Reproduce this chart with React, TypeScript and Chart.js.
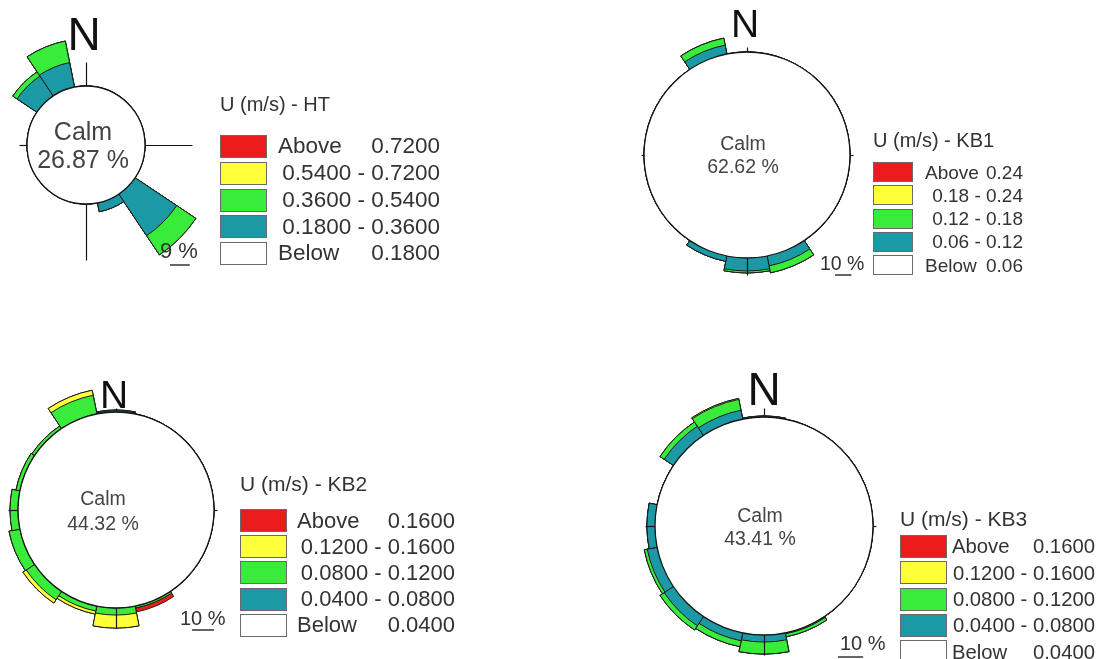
import React, { useEffect, useRef } from 'react';
import { Chart, registerables } from 'chart.js';

Chart.register(...registerables);

const FONT = '"Liberation Sans", Arial, Helvetica, sans-serif';

// 16 compass sectors, clockwise from north
const directions = ['N', 'NNE', 'NE', 'ENE', 'E', 'ESE', 'SE', 'SSE', 'S', 'SSW', 'SW', 'WSW', 'W', 'WNW', 'NW', 'NNW'];

// speed class colours, innermost class first
const speedColors = ['#1b9aa6', '#39ec39', '#ffff3a', '#ec1c1c'];

// ---- HT ----
const htCalm = 26.87;
const htScaleStep = 9;
const htBreaks = ['0.1800', '0.3600', '0.5400', '0.7200'];
//              N  NNE NE ENE E ESE  SE    SSE  S SSW SW WSW W WNW  NW    NNW
const htTeal = [0, 0, 0, 0, 0, 0, 22.8, 4.1, 0, 0, 0, 0, 0, 0, 10.9, 11.4];
const htGreen = [0, 0, 0, 0, 0, 0, 10.5, 0, 0, 0, 0, 0, 0, 0, 2.3, 10.0];
const htYellow = [0, 0, 0, 0, 0, 0, 0, 0, 0, 0, 0, 0, 0, 0, 0, 0];
const htRed = [0, 0, 0, 0, 0, 0, 0, 0, 0, 0, 0, 0, 0, 0, 0, 0];

// ---- KB1 ----
const kb1Calm = 62.62;
const kb1ScaleStep = 10;
const kb1Breaks = ['0.06', '0.12', '0.18', '0.24'];
const kb1Teal = [0, 0, 0, 0, 0, 0, 0, 6.1, 7.9, 3.3, 0, 0, 0, 0, 0, 5.5];
const kb1Green = [0, 0, 0, 0, 0, 0, 0, 4.3, 1.2, 0, 0, 0, 0, 0, 0, 4.3];
const kb1Yellow = [0, 0, 0, 0, 0, 0, 0, 0, 0, 0, 0, 0, 0, 0, 0, 0];
const kb1Red = [0, 0, 0, 0, 0, 0, 0, 0, 0, 0, 0, 0, 0, 0, 0, 0];

// ---- KB2 ----
const kb2Calm = 44.32;
const kb2ScaleStep = 10;
const kb2Breaks = ['0.0400', '0.0800', '0.1200', '0.1600'];
const kb2Teal = [0.5, 0, 0, 0, 0, 0, 0, 0, 0, 0, 0, 0, 0, 0, 0, 0];
const kb2Green = [0.4, 0, 0, 0, 0, 0, 0, 0.9, 3.2, 2.3, 4.5, 5.0, 3.6, 1.8, 1.4, 8.6];
const kb2Yellow = [0, 0, 0, 0, 0, 0, 0, 0, 5.9, 1.4, 1.8, 0, 0, 0, 0, 2.3];
const kb2Red = [0, 0, 0, 0, 0, 0, 0, 1.8, 0, 0, 0, 0, 0, 0, 0, 0];

// ---- KB3 ----
const kb3Calm = 43.41;
const kb3ScaleStep = 10;
const kb3Breaks = ['0.0400', '0.0800', '0.1200', '0.1600'];
const kb3Teal = [0.4, 0, 0, 0, 0, 0, 0, 0.4, 2.8, 3.2, 4.4, 4.0, 3.2, 0, 4.4, 3.6];
const kb3Green = [0, 0, 0, 0, 0, 0, 0, 1.2, 4.8, 2.4, 2.0, 1.2, 0, 0, 2.0, 4.4];
const kb3Yellow = [0, 0, 0, 0, 0, 0, 0, 0, 0, 0, 0, 0, 0, 0, 0, 0.4];
const kb3Red = [0, 0, 0, 0, 0, 0, 0, 0, 0, 0, 0, 0, 0, 0, 0, 0];

type RoseLayout = {
  cx: number;
  cy: number;
  calmR: number; // pixel radius of the calm circle
  half: number; // half of the canvas side
  nDx: number;
  nDy: number;
  nSize: number;
  calmDx: number;
  calmY1: number;
  calmY2: number;
  calmSize: number;
  scaleTextDx: number;
  scaleTextDy: number;
  scaleSize: number;
  scaleBarDx: number;
  scaleBarDy: number;
  axisLen: number[]; // N, E, S, W tick lengths beyond the calm circle
};

type LegendLayout = {
  left: number;
  titleBaseline: number;
  titleSize: number;
  boxW: number;
  boxH: number;
  firstTop: number;
  pitch: number;
  textLeft: number;
  textRight: number;
  textSize: number;
};

// running totals so each class ring is drawn from the calm circle outward
function stackClasses(classes: number[][]): number[][] {
  const out: number[][] = [];
  classes.forEach((vals, i) => {
    out.push(vals.map((v, k) => (i === 0 ? v : out[i - 1][k] + v)));
  });
  return out;
}

function WindRose(props: { calm: number; classes: number[][]; scaleStep: number; layout: RoseLayout }) {
  const { calm, classes, scaleStep, layout: L } = props;
  const ref = useRef<HTMLCanvasElement>(null);
  const size = L.half * 2;

  useEffect(() => {
    if (!ref.current) return;
    const stacked = stackClasses(classes);

    const decor = {
      id: 'roseDecor',
      afterDatasetsDraw(chart: any) {
        const s = chart.scales.r;
        const ctx = chart.ctx;
        const cx = s.xCenter;
        const cy = s.yCenter;
        const r0 = s.getDistanceFromCenterForValue(0);
        ctx.save();
        // calm circle
        ctx.beginPath();
        ctx.arc(cx, cy, r0, 0, Math.PI * 2);
        ctx.fillStyle = '#ffffff';
        ctx.fill();
        ctx.lineWidth = 1.3;
        ctx.strokeStyle = '#151515';
        ctx.stroke();
        // compass axis ticks
        const dirs = [[0, -1], [1, 0], [0, 1], [-1, 0]];
        ctx.lineWidth = 1.2;
        dirs.forEach(([dx, dy], i) => {
          const len = L.axisLen[i];
          ctx.beginPath();
          ctx.moveTo(cx + dx * r0 + 0.5, cy + dy * r0 + 0.5);
          ctx.lineTo(cx + dx * (r0 + len) + 0.5, cy + dy * (r0 + len) + 0.5);
          ctx.stroke();
        });
        // north marker
        ctx.fillStyle = '#111';
        ctx.font = `${L.nSize}px ${FONT}`;
        ctx.textAlign = 'center';
        ctx.textBaseline = 'alphabetic';
        ctx.fillText('N', cx + L.nDx, cy + L.nDy);
        // calm share
        ctx.fillStyle = '#444';
        ctx.font = `${L.calmSize}px ${FONT}`;
        ctx.fillText('Calm', cx + L.calmDx, cy + L.calmY1);
        ctx.fillText(`${calm.toFixed(2)} %`, cx + L.calmDx, cy + L.calmY2);
        // radial scale bar
        const barLen = s.getDistanceFromCenterForValue(scaleStep) - r0;
        ctx.fillStyle = '#333';
        ctx.font = `${L.scaleSize}px ${FONT}`;
        ctx.textAlign = 'left';
        ctx.fillText(`${scaleStep} %`, cx + L.scaleTextDx, cy + L.scaleTextDy);
        ctx.strokeStyle = '#333';
        ctx.lineWidth = 1.5;
        ctx.beginPath();
        ctx.moveTo(cx + L.scaleBarDx, cy + L.scaleBarDy);
        ctx.lineTo(cx + L.scaleBarDx + barLen, cy + L.scaleBarDy);
        ctx.stroke();
        ctx.restore();
      },
    };

    const max = -calm + (L.half * calm) / L.calmR;

    const chart = new Chart(ref.current, {
      type: 'polarArea',
      data: {
        labels: directions,
        datasets: stacked.map((vals, i) => ({
          label: `class ${i + 1}`,
          data: vals,
          backgroundColor: speedColors[i],
          borderColor: '#1a1a1a',
          borderWidth: 1,
        })),
      },
      options: {
        responsive: false,
        animation: false,
        events: [],
        layout: { padding: 0 },
        plugins: { legend: { display: false }, tooltip: { enabled: false } },
        scales: {
          r: {
            min: -calm,
            max,
            startAngle: -11.25,
            grid: { display: false },
            angleLines: { display: false },
            ticks: { display: false },
            pointLabels: { display: false },
          },
        },
      } as any,
      plugins: [decor],
    });
    return () => chart.destroy();
  }, []);

  return (
    <canvas
      ref={ref}
      width={size}
      height={size}
      style={{ position: 'absolute', left: L.cx - L.half, top: L.cy - L.half, width: size, height: size }}
    />
  );
}

function SpeedLegend(props: { station: string; breaks: string[]; layout: LegendLayout }) {
  const { station, breaks, layout: G } = props;
  const rows = [
    { color: speedColors[3], label: 'Above', value: breaks[3] },
    { color: speedColors[2], range: `${breaks[2]} - ${breaks[3]}` },
    { color: speedColors[1], range: `${breaks[1]} - ${breaks[2]}` },
    { color: speedColors[0], range: `${breaks[0]} - ${breaks[1]}` },
    { color: '#ffffff', label: 'Below', value: breaks[0] },
  ];
  return (
    <>
      <div
        style={{
          position: 'absolute',
          left: G.left,
          top: G.titleBaseline - G.titleSize * 0.85,
          fontSize: G.titleSize,
          lineHeight: 1,
          color: '#333',
          whiteSpace: 'nowrap',
        }}
      >
        {`U (m/s) - ${station}`}
      </div>
      {rows.map((r, i) => (
        <React.Fragment key={i}>
          <div
            style={{
              position: 'absolute',
              left: G.left,
              top: G.firstTop + i * G.pitch,
              width: G.boxW,
              height: G.boxH,
              boxSizing: 'border-box',
              background: r.color,
              border: '1.5px solid #6a6a6a',
            }}
          />
          <div
            style={{
              position: 'absolute',
              left: G.textLeft,
              top: G.firstTop + i * G.pitch,
              width: G.textRight - G.textLeft,
              height: G.boxH,
              display: 'flex',
              alignItems: 'center',
              justifyContent: r.range ? 'flex-end' : 'space-between',
              fontSize: G.textSize,
              lineHeight: 1,
              color: '#333',
              whiteSpace: 'nowrap',
            }}
          >
            {r.range ? (
              <span>{r.range}</span>
            ) : (
              <>
                <span>{r.label}</span>
                <span>{r.value}</span>
              </>
            )}
          </div>
        </React.Fragment>
      ))}
    </>
  );
}

const htRose: RoseLayout = {
  cx: 86, cy: 145, calmR: 59, half: 150,
  nDx: -2, nDy: -95, nSize: 46,
  calmDx: -3, calmY1: -5, calmY2: 23, calmSize: 25,
  scaleTextDx: 74, scaleTextDy: 113, scaleSize: 22, scaleBarDx: 84, scaleBarDy: 120,
  axisLen: [24, 47, 56, 8],
};
const kb1Rose: RoseLayout = {
  cx: 747, cy: 155, calmR: 103, half: 160,
  nDx: -2, nDy: -118, nSize: 39,
  calmDx: -4, calmY1: -5, calmY2: 18, calmSize: 19.5,
  scaleTextDx: 73, scaleTextDy: 115, scaleSize: 19.5, scaleBarDx: 88, scaleBarDy: 120,
  axisLen: [5, 3, 17, 3],
};
const kb2Rose: RoseLayout = {
  cx: 116, cy: 510, calmR: 98, half: 150,
  nDx: -2, nDy: -102, nSize: 39,
  calmDx: -13, calmY1: -5, calmY2: 20, calmSize: 19.5,
  scaleTextDx: 64, scaleTextDy: 115, scaleSize: 20, scaleBarDx: 76, scaleBarDy: 120,
  axisLen: [4, 3, 20, 10],
};
const kb3Rose: RoseLayout = {
  cx: 764, cy: 526, calmR: 109, half: 160,
  nDx: 0, nDy: -121, nSize: 46,
  calmDx: -4, calmY1: -4, calmY2: 19, calmSize: 19.5,
  scaleTextDx: 76, scaleTextDy: 124, scaleSize: 20, scaleBarDx: 74, scaleBarDy: 131,
  axisLen: [9, 3, 20, 10],
};

const htLegend: LegendLayout = {
  left: 220, titleBaseline: 111, titleSize: 20, boxW: 47, boxH: 23, firstTop: 135, pitch: 26.8,
  textLeft: 278, textRight: 440, textSize: 22.5,
};
const kb1Legend: LegendLayout = {
  left: 873, titleBaseline: 147, titleSize: 20, boxW: 40, boxH: 20, firstTop: 162, pitch: 23.3,
  textLeft: 925, textRight: 1023, textSize: 19,
};
const kb2Legend: LegendLayout = {
  left: 240, titleBaseline: 491, titleSize: 21, boxW: 47, boxH: 23, firstTop: 509, pitch: 26.2,
  textLeft: 297, textRight: 455, textSize: 22,
};
const kb3Legend: LegendLayout = {
  left: 900, titleBaseline: 526, titleSize: 21, boxW: 47, boxH: 23, firstTop: 535, pitch: 26.3,
  textLeft: 952, textRight: 1095, textSize: 20.3,
};

export default function App() {
  return (
    <div
      style={{
        position: 'absolute',
        left: 0,
        top: 0,
        width: 1100,
        height: 659,
        overflow: 'hidden',
        background: '#ffffff',
        fontFamily: FONT,
      }}
    >
      <WindRose calm={htCalm} classes={[htTeal, htGreen, htYellow, htRed]} scaleStep={htScaleStep} layout={htRose} />
      <WindRose calm={kb1Calm} classes={[kb1Teal, kb1Green, kb1Yellow, kb1Red]} scaleStep={kb1ScaleStep} layout={kb1Rose} />
      <WindRose calm={kb2Calm} classes={[kb2Teal, kb2Green, kb2Yellow, kb2Red]} scaleStep={kb2ScaleStep} layout={kb2Rose} />
      <WindRose calm={kb3Calm} classes={[kb3Teal, kb3Green, kb3Yellow, kb3Red]} scaleStep={kb3ScaleStep} layout={kb3Rose} />
      <SpeedLegend station="HT" breaks={htBreaks} layout={htLegend} />
      <SpeedLegend station="KB1" breaks={kb1Breaks} layout={kb1Legend} />
      <SpeedLegend station="KB2" breaks={kb2Breaks} layout={kb2Legend} />
      <SpeedLegend station="KB3" breaks={kb3Breaks} layout={kb3Legend} />
    </div>
  );
}
